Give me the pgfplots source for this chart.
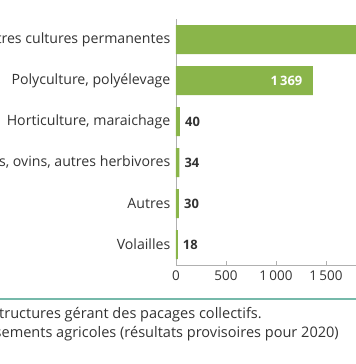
\documentclass[border=0pt]{standalone}
\usepackage{pgfplots}
\pgfplotsset{compat=1.18}
\usepackage{fontspec}
\setmainfont{Open Sans}
\definecolor{bargreen}{HTML}{8AB54A}
\definecolor{txt}{HTML}{333333}
\definecolor{sep}{HTML}{76B9AA}
\definecolor{axgray}{HTML}{B0B0B0}
\begin{document}
\begin{tikzpicture}[x=1bp,y=1bp]
\useasboundingbox (0,0) rectangle (356,364);
\clip (0,0) rectangle (356,364);
\begin{axis}[
  at={(176bp,99bp)}, anchor=south west,
  scale only axis,
  width=200bp, height=246bp,
  xmin=0, xmax=2000,
  ymin=-0.5, ymax=5.5,
  y dir=reverse,
  axis x line*=bottom, axis y line*=left,
  axis line style={axgray, line width=0.6bp},
  xtick={0,500,1000,1500},
  xticklabels={0,500,1\,000,1\,500},
  tick align=inside,
  major tick length=4bp,
  xtick style={axgray, line width=0.6bp},
  ytick={0,1,2,3,4,5},
  yticklabels={Fruits et autres cultures permanentes,{Polyculture, polyélevage},{Horticulture, maraichage},{Bovins, ovins, autres herbivores},Autres,Volailles},
  ytick style={draw=none},
  yticklabel style={inner sep=0pt, xshift=-1.5bp, font=\fontsize{14.2}{16}\selectfont, text=txt},
  xticklabel style={inner sep=0pt, yshift=-6bp, font=\fontsize{13.5}{15}\selectfont, text=txt},
  xbar, bar width=29bp,
  bar shift=0pt,
  clip=false,
]
\addplot[fill=bargreen, draw=none] coordinates {(2400,0) (1369,1) (40,2) (34,3) (30,4) (18,5)};
\node[anchor=east, text=white, font=\bfseries\fontsize{13}{15}\selectfont] at (axis cs:1369,1) [xshift=-7bp] {1\,369};
\node[anchor=west, text=txt, font=\bfseries\fontsize{13}{15}\selectfont, inner sep=0pt] at (axis cs:40,2) [xshift=5bp] {40};
\node[anchor=west, text=txt, font=\bfseries\fontsize{13}{15}\selectfont, inner sep=0pt] at (axis cs:34,3) [xshift=5bp] {34};
\node[anchor=west, text=txt, font=\bfseries\fontsize{13}{15}\selectfont, inner sep=0pt] at (axis cs:30,4) [xshift=5bp] {30};
\node[anchor=west, text=txt, font=\bfseries\fontsize{13}{15}\selectfont, inner sep=0pt] at (axis cs:18,5) [xshift=5bp] {18};
\end{axis}
\draw[sep, line width=1.5bp] (0,65) -- (356,65);
\node[anchor=base east, inner sep=0pt, text=txt, font=\fontsize{14.6}{16}\selectfont] at (262,46) {Champ : hors structures gérant des pacages collectifs.};
\node[anchor=base east, inner sep=0pt, text=txt, font=\fontsize{14.6}{16}\selectfont] at (339,27) {Source : Agreste, Recensements agricoles (résultats provisoires pour 2020)};
\end{tikzpicture}
\end{document}
